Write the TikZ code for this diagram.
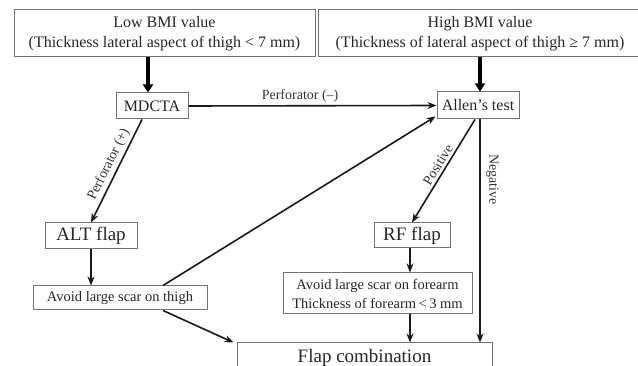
\documentclass[tikz,border=0pt]{standalone}
\usepackage{fontspec}
\setmainfont{Liberation Serif}
\usetikzlibrary{arrows.meta,calc}
\begin{document}
\begin{tikzpicture}[x=1pt,y=-1pt,
  box/.style={draw=black!55,line width=1pt,text=black!85,inner sep=0pt,align=center},
  thin/.style={line width=1.6pt,black!90,-{Stealth[length=9pt,width=7pt]}},
  thick/.style={line width=3.8pt,black,-{Triangle[width=10pt,length=8pt]}},
  lbl/.style={text=black!80,font=\fontsize{14}{16}\selectfont,inner sep=1.5pt},
  f16/.style={font=\fontsize{16}{20}\selectfont},
  f19/.style={font=\fontsize{19}{22}\selectfont},
  f145/.style={font=\fontsize{14.5}{19}\selectfont}]
\useasboundingbox (0,0) rectangle (638,366);
\clip (0,0) rectangle (638,366);
\node[box,f16,minimum width=301pt,minimum height=47pt] (low) at (164.5,33.5)
  {Low BMI value\\(Thickness lateral aspect of thigh < 7 mm)};
\node[box,f16,minimum width=324pt,minimum height=47pt] (high) at (480,33.5)
  {High BMI value\\(Thickness of lateral aspect of thigh ≥ 7 mm)};
\node[box,f16,minimum width=72pt,minimum height=26pt] (mdcta) at (152,106) {MDCTA};
\node[box,f16,minimum width=82pt,minimum height=27pt] (allen) at (478,105.5) {Allen’s test};
\node[box,f19,minimum width=92pt,minimum height=26pt] (alt) at (91,236) {ALT flap};
\node[box,f19,minimum width=76pt,minimum height=25pt] (rf) at (412,235.5) {RF flap};
\node[box,f145,minimum width=174pt,minimum height=24pt] (thigh) at (120,298) {Avoid large scar on thigh};
\node[box,f145,minimum width=189pt,minimum height=41pt] (fore) at (377.5,293.5)
  {Avoid large scar on forearm\\Thickness of forearm\,<\,3 mm};
\node[box,f19,minimum width=255pt,minimum height=30pt] (combo) at (364.5,358) {Flap combination};

\draw[thick] ([xshift=-16.5pt]low.south) -- ([xshift=-16.5pt]low.south |- mdcta.north);
\draw[thick] (high.south) -- (high.south |- allen.north);
\draw[thin] (mdcta.east) -- node[lbl,pos=0.45,above=1pt]{Perforator (–)} (allen.west);
\draw[thin] ([xshift=-10pt]mdcta.south) -- node[lbl,sloped,above=1pt,pos=0.48]{Perforator (+)} (alt.north);
\draw[thin] (alt.south) -- (alt.south |- thigh.north);
\draw[thin] ([xshift=43pt]thigh.north) -- ([shift={(-1pt,3pt)}]allen.south west);
\draw[thin] ([xshift=43pt]thigh.south) -- ([xshift=-3pt]combo.north west);
\draw[thin] ([xshift=-3pt]allen.south) -- node[lbl,sloped,above=1pt,pos=0.48]{Positive} (rf.north);
\draw[thin] ([xshift=-2pt]rf.south) -- ([xshift=-2pt]rf.south |- fore.north);
\draw[thin] ([xshift=-2pt]rf.south |- fore.south) -- ([xshift=-2pt]rf.south |- combo.north);
\draw[thin] ([xshift=2pt]allen.south) -- node[lbl,pos=0.27,rotate=-90,anchor=south,yshift=4pt]{Negative} ([xshift=2pt]allen.south |- combo.north);
\end{tikzpicture}
\end{document}
